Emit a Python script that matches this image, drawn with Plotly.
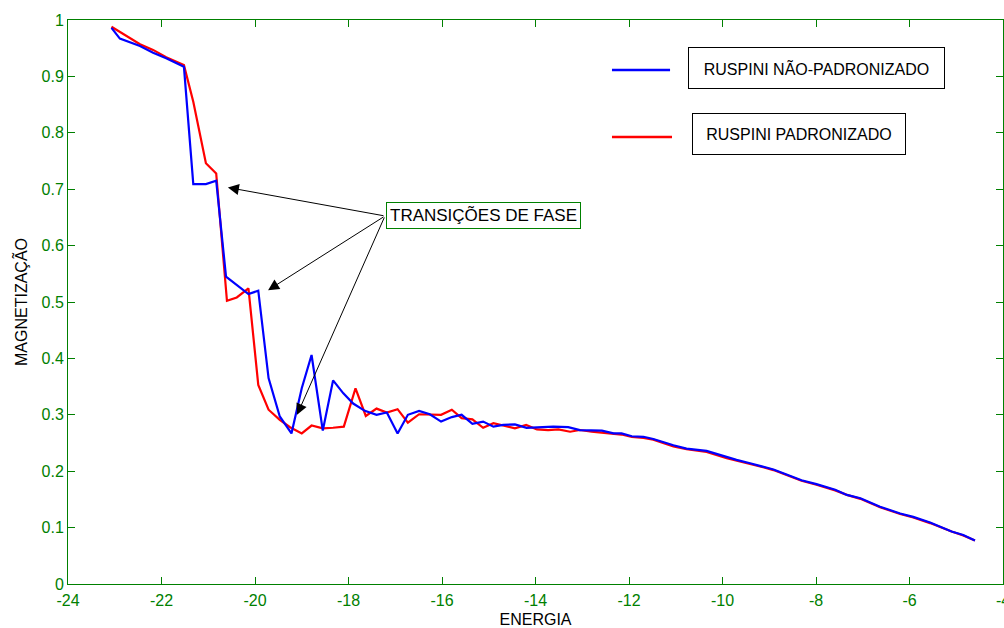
import plotly.graph_objects as go

# Magnetização em função da energia — algoritmo Ruspini
energia_nao_padronizado = [
    -23.07, -22.89, -22.46, -22.18, -21.90, -21.52, -21.32, -21.05, -20.83, -20.62,
    -20.14, -19.93, -19.71, -19.47, -19.22, -19.00, -18.79, -18.55, -18.33, -18.11,
    -17.90, -17.65, -17.40, -17.18, -16.95, -16.73, -16.49, -16.26, -16.02, -15.79,
    -15.58, -15.35, -15.12, -14.90, -14.69, -14.44, -14.19, -13.90, -13.62, -13.30,
    -13.05, -12.58, -12.33, -12.16, -11.94, -11.69, -11.48, -11.05, -10.77, -10.34,
    -9.91, -9.70, -9.41, -9.13, -8.91, -8.63, -8.31, -7.99, -7.59, -7.34,
    -7.05, -6.63, -6.20, -5.92, -5.56, -5.10, -4.85, -4.60,
]
magnetizacao_nao_padronizado = [
    0.986, 0.967, 0.954, 0.942, 0.932, 0.917, 0.709, 0.709, 0.715, 0.545,
    0.514, 0.520, 0.365, 0.297, 0.267, 0.347, 0.406, 0.272, 0.361, 0.338,
    0.320, 0.307, 0.300, 0.304, 0.267, 0.300, 0.307, 0.301, 0.288, 0.296,
    0.300, 0.284, 0.288, 0.279, 0.282, 0.283, 0.277, 0.278, 0.279, 0.278,
    0.273, 0.272, 0.267, 0.267, 0.262, 0.261, 0.257, 0.246, 0.240, 0.236,
    0.225, 0.220, 0.214, 0.208, 0.203, 0.194, 0.184, 0.177, 0.167, 0.158,
    0.152, 0.137, 0.125, 0.119, 0.109, 0.093, 0.087, 0.077,
]

energia_padronizado = [
    -23.07, -22.46, -22.18, -21.90, -21.52, -21.32, -21.05, -20.83, -20.60, -20.39,
    -20.14, -19.93, -19.71, -19.47, -19.25, -19.00, -18.79, -18.55, -18.33, -18.10,
    -17.85, -17.63, -17.40, -17.18, -16.95, -16.73, -16.49, -16.26, -16.02, -15.79,
    -15.58, -15.35, -15.12, -14.90, -14.65, -14.44, -14.20, -13.97, -13.73, -13.51,
    -13.26, -13.05, -12.80, -12.58, -12.33, -12.16, -11.94, -11.69, -11.48, -11.05,
    -10.77, -10.34, -9.91, -9.70, -9.41, -9.13, -8.91, -8.63, -8.31, -7.99,
    -7.59, -7.34, -7.05, -6.63, -6.20, -5.92, -5.56, -5.10, -4.85, -4.60,
]
magnetizacao_padronizado = [
    0.988, 0.957, 0.947, 0.934, 0.920, 0.855, 0.746, 0.728, 0.502, 0.508,
    0.524, 0.353, 0.309, 0.291, 0.278, 0.267, 0.281, 0.276, 0.277, 0.279,
    0.347, 0.298, 0.311, 0.304, 0.310, 0.286, 0.301, 0.300, 0.300, 0.309,
    0.294, 0.292, 0.277, 0.285, 0.280, 0.276, 0.282, 0.274, 0.273, 0.274,
    0.270, 0.273, 0.270, 0.268, 0.266, 0.265, 0.261, 0.259, 0.256, 0.244,
    0.239, 0.234, 0.223, 0.219, 0.213, 0.207, 0.202, 0.193, 0.183, 0.176,
    0.166, 0.158, 0.151, 0.136, 0.124, 0.118, 0.108, 0.093, 0.086, 0.077,
]

x_ticks = [-24, -22, -20, -18, -16, -14, -12, -10, -8, -6, -4]
y_ticks = [0, 0.1, 0.2, 0.3, 0.4, 0.5, 0.6, 0.7, 0.8, 0.9, 1]

nomes_series = ["RUSPINI NÃO-PADRONIZADO", "RUSPINI PADRONIZADO"]
rotulo_transicao = "TRANSIÇÕES DE FASE"
# pontos marcados pelas setas (energia, magnetização) e origem comum das setas
setas_destino = [(-20.58, 0.703), (-19.72, 0.521), (-19.10, 0.300)]
seta_origem = (-17.22, 0.6525)

VERDE = "#008000"
FONTE = "Liberation Sans, Arial, Helvetica, sans-serif"

fig = go.Figure()
fig.add_trace(go.Scatter(
    x=energia_padronizado, y=magnetizacao_padronizado, mode="lines",
    line=dict(color="#ff0000", width=2.2), name=nomes_series[1], showlegend=False,
))
fig.add_trace(go.Scatter(
    x=energia_nao_padronizado, y=magnetizacao_nao_padronizado, mode="lines",
    line=dict(color="#0000ff", width=2.2), name=nomes_series[0], showlegend=False,
))

eixo_comum = dict(
    showgrid=False, zeroline=False, showline=True, linecolor=VERDE, linewidth=1,
    mirror="ticks", ticks="inside", ticklen=7, tickcolor=VERDE, tickwidth=1,
    tickfont=dict(family=FONTE, size=16, color=VERDE), automargin=False,
    ticklabeloverflow="allow",
)

fig.update_xaxes(
    range=[-24, -4], tickvals=x_ticks, ticktext=[str(v) for v in x_ticks],
    ticklabelstandoff=2,
    title=dict(text="ENERGIA", font=dict(family=FONTE, size=16, color="black"), standoff=9),
    **eixo_comum,
)
fig.update_yaxes(
    range=[0, 1], tickvals=y_ticks, ticktext=[f"{v:g}" for v in y_ticks],
    title=dict(text="MAGNETIZAÇÃO", font=dict(family=FONTE, size=16, color="black"), standoff=9),
    **eixo_comum,
)

anotacoes = []
for (xd, yd) in setas_destino:
    anotacoes.append(dict(
        x=xd, y=yd, xref="x", yref="y", ax=seta_origem[0], ay=seta_origem[1],
        axref="x", ayref="y", text="", showarrow=True, arrowhead=2,
        arrowsize=2.2, arrowwidth=1, arrowcolor="black", standoff=0,
    ))
anotacoes.append(dict(
    x=seta_origem[0], y=seta_origem[1], xref="x", yref="y", xanchor="left", yanchor="middle",
    xshift=1, text=rotulo_transicao, showarrow=False,
    font=dict(family=FONTE, size=17, color="black"),
    bordercolor=VERDE, borderwidth=1, borderpad=3, bgcolor="white",
))

# legenda desenhada: amostras de linha e caixas de texto
legenda = [
    (nomes_series[0], "#0000ff", 0.9113, 0.6439, 0.8005, 0.9149, 255),
    (nomes_series[1], "#ff0000", 0.7926, 0.6460, 0.7818, 0.7979, 212),
]
formas = []
for nome, cor, y_linha, x_fim, x_caixa, y_caixa, largura in legenda:
    formas.append(dict(
        type="line", xref="paper", yref="paper", x0=0.5818, x1=x_fim,
        y0=y_linha, y1=y_linha, line=dict(color=cor, width=2.5),
    ))
    anotacoes.append(dict(
        x=x_caixa, y=y_caixa, xref="paper", yref="paper", xanchor="center", yanchor="middle",
        text=nome, showarrow=False, width=largura, height=40, align="center", valign="middle",
        font=dict(family=FONTE, size=16, color="black"),
        bordercolor="black", borderwidth=1, borderpad=0, bgcolor="white",
    ))

fig.update_layout(
    width=1004, height=628,
    margin=dict(l=68, r=1, t=20, b=44),
    paper_bgcolor="white", plot_bgcolor="white",
    annotations=anotacoes, shapes=formas,
    showlegend=False,
)

fig.write_html("out.html")
